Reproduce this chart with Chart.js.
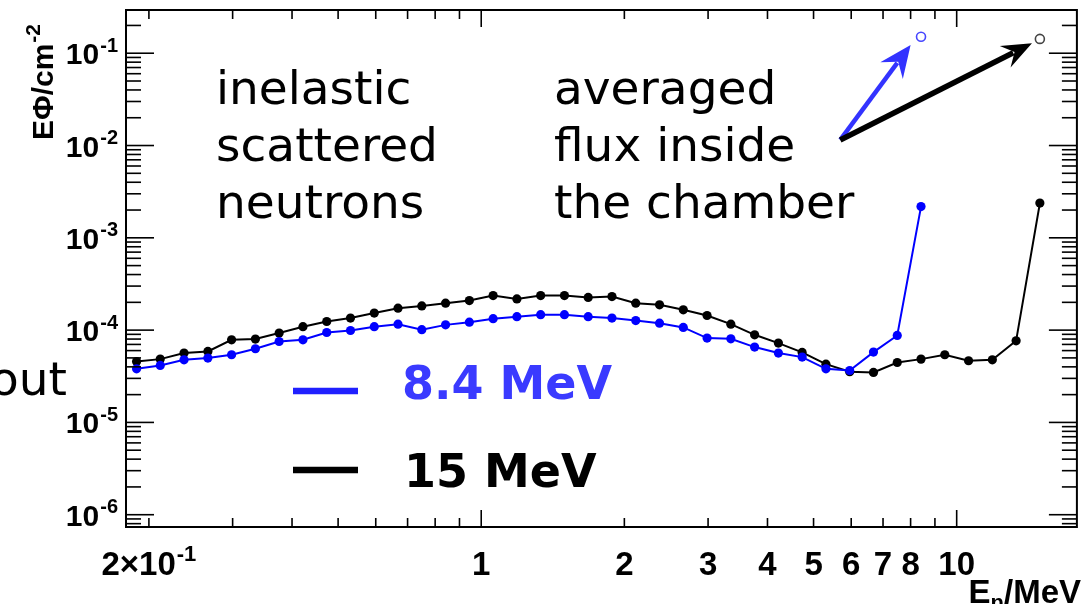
<!DOCTYPE html>
<html>
<head>
<meta charset="utf-8">
<script src="https://cdn.jsdelivr.net/npm/chart.js@4/dist/chart.umd.min.js"></script>
<style>
  html, body { margin: 0; padding: 0; background: #fff; }
  #wrap { position: relative; width: 1083px; height: 604px; overflow: hidden; }
</style>
</head>
<body>
<div id="wrap"><canvas id="fluxChart" width="1083" height="604"></canvas></div>
<script>
// neutron energy bins, MeV (20 bins per decade)
const energies = [
  0.1884, 0.2113, 0.2371, 0.2661, 0.2985, 0.3350, 0.3758, 0.4217, 0.4732, 0.5309,
  0.5957, 0.6683, 0.7499, 0.8414, 0.9441, 1.0593, 1.1885, 1.3335, 1.4962, 1.6788,
  1.8836, 2.1135, 2.3714, 2.6607, 2.9854, 3.3497, 3.7584, 4.2170, 4.7315, 5.3088,
  5.9566, 6.6834, 7.4989, 8.4140, 9.4406, 10.593, 11.885, 13.335, 14.962
];

// E*Phi per cm^2, 8.4 MeV beam
const flux84 = [
  3.81e-5, 4.14e-5, 4.77e-5, 4.98e-5, 5.41e-5, 6.28e-5, 7.53e-5, 7.85e-5, 9.42e-5, 9.90e-5,
  1.09e-4, 1.16e-4, 1.01e-4, 1.14e-4, 1.22e-4, 1.33e-4, 1.40e-4, 1.47e-4, 1.47e-4, 1.40e-4,
  1.35e-4, 1.27e-4, 1.19e-4, 1.07e-4, 8.20e-5, 8.05e-5, 6.55e-5, 5.64e-5, 5.10e-5, 3.81e-5,
  3.65e-5, 5.78e-5, 8.75e-5, 2.18e-3
];

// E*Phi per cm^2, 15 MeV beam
const flux15 = [
  4.57e-5, 4.85e-5, 5.64e-5, 5.87e-5, 7.85e-5, 8.00e-5, 9.29e-5, 1.09e-4, 1.24e-4, 1.35e-4,
  1.53e-4, 1.73e-4, 1.83e-4, 1.96e-4, 2.09e-4, 2.37e-4, 2.18e-4, 2.37e-4, 2.37e-4, 2.26e-4,
  2.31e-4, 1.96e-4, 1.88e-4, 1.66e-4, 1.44e-4, 1.16e-4, 8.90e-5, 7.23e-5, 5.73e-5, 4.28e-5,
  3.54e-5, 3.48e-5, 4.46e-5, 4.85e-5, 5.41e-5, 4.66e-5, 4.77e-5, 7.66e-5, 2.38e-3
];

// averaged flux inside the chamber (open circles)
const avgEnergy = [8.414, 14.962];
const avgFlux = [0.151, 0.143];

// arrows, in data units: common start, then the two tips
const arrowStart = { x: 5.69, y: 0.0115 };
const arrowTips = [{ x: 8.0, y: 0.123 }, { x: 14.4, y: 0.128 }];

// tick labels ('^' starts a superscript)
const yTickValues = [1e-6, 1e-5, 1e-4, 1e-3, 1e-2, 1e-1];
const yTickLabels = ['10^-6', '10^-5', '10^-4', '10^-3', '10^-2', '10^-1'];
const xTickValues = [0.2, 1, 2, 3, 4, 5, 6, 7, 8, 10];
const xTickLabels = ['2\u00d710^-1', '1', '2', '3', '4', '5', '6', '7', '8', '10'];

const BLUE = '#0000ff';
const pts = (xs, ys) => ys.map((v, i) => ({ x: xs[i], y: v }));
const ROOTFONT = '"Liberation Sans", Arial, sans-serif';

function richText(ctx, str, x, y, size, align) {
  const [base, sup] = str.split('^');
  ctx.font = 'bold ' + size + 'px ' + ROOTFONT;
  const wb = ctx.measureText(base).width;
  const supSize = Math.round(size * 0.68);
  let ws = 0;
  if (sup) {
    ctx.font = 'bold ' + supSize + 'px ' + ROOTFONT;
    ws = ctx.measureText(sup).width + 1;
  }
  const total = wb + ws;
  let sx = x;
  if (align === 'center') sx = x - total / 2;
  if (align === 'right') sx = x - total;
  ctx.textAlign = 'left';
  ctx.font = 'bold ' + size + 'px ' + ROOTFONT;
  ctx.fillText(base, sx, y);
  if (sup) {
    ctx.font = 'bold ' + supSize + 'px ' + ROOTFONT;
    ctx.fillText(sup, sx + wb + 1, y - size * 0.42);
  }
}

function arrow(ctx, x0, y0, x1, y1, w, headLen, headHalf, color) {
  const ang = Math.atan2(y1 - y0, x1 - x0);
  const c = Math.cos(ang), s = Math.sin(ang);
  ctx.save();
  ctx.strokeStyle = color;
  ctx.fillStyle = color;
  ctx.lineWidth = w;
  ctx.beginPath();
  ctx.moveTo(x0, y0);
  ctx.lineTo(x1 - c * headLen * 0.7, y1 - s * headLen * 0.7);
  ctx.stroke();
  const bx = x1 - c * headLen, by = y1 - s * headLen;
  const nx = x1 - c * headLen * 0.65, ny = y1 - s * headLen * 0.65;
  ctx.beginPath();
  ctx.moveTo(x1, y1);
  ctx.lineTo(bx - s * headHalf, by + c * headHalf);
  ctx.lineTo(nx, ny);
  ctx.lineTo(bx + s * headHalf, by - c * headHalf);
  ctx.closePath();
  ctx.fill();
  ctx.restore();
}

const rootFrame = {
  id: 'rootFrame',
  afterDatasetsDraw(chart) {
    const { ctx, chartArea: a, scales: { x, y } } = chart;
    ctx.save();
    ctx.strokeStyle = '#000';
    ctx.lineWidth = 2;
    ctx.strokeRect(a.left, a.top, a.right - a.left, a.bottom - a.top);

    ctx.lineWidth = 1.6;
    const seg = (x0, y0, x1, y1) => { ctx.beginPath(); ctx.moveTo(x0, y0); ctx.lineTo(x1, y1); ctx.stroke(); };
    // y axis ticks, left and right, pointing inwards
    for (let d = -7; d <= 0; d++) {
      for (let m = 1; m <= 9; m++) {
        const v = m * Math.pow(10, d);
        if (v < y.min || v > y.max) continue;
        const py = y.getPixelForValue(v);
        const len = m === 1 ? 28 : 15;
        seg(a.left, py, a.left + len, py);
        seg(a.right, py, a.right - len, py);
      }
    }
    // x axis ticks, bottom and top
    for (let d = -1; d <= 1; d++) {
      for (let m = 1; m <= 9; m++) {
        const v = m * Math.pow(10, d);
        if (v < x.min || v > x.max) continue;
        const px = x.getPixelForValue(v);
        const len = m === 1 ? 17 : 9;
        seg(px, a.bottom, px, a.bottom - len);
        seg(px, a.top, px, a.top + len);
      }
    }

    // tick labels
    ctx.fillStyle = '#000';
    ctx.textBaseline = 'alphabetic';
    yTickValues.forEach((v, i) => {
      richText(ctx, yTickLabels[i], 118, y.getPixelForValue(v) + 11, 30, 'right');
    });
    xTickValues.forEach((v, i) => {
      richText(ctx, xTickLabels[i], x.getPixelForValue(v), 575, 33, 'center');
    });

    // axis titles
    ctx.font = 'bold 33px ' + ROOTFONT;
    ctx.textAlign = 'right';
    const wMeV = ctx.measureText('/MeV').width;
    ctx.fillText('/MeV', 1081, 603);
    ctx.font = 'bold 22px ' + ROOTFONT;
    const wn = ctx.measureText('n').width;
    ctx.fillText('n', 1081 - wMeV, 610);
    ctx.font = 'bold 33px ' + ROOTFONT;
    ctx.fillText('E', 1081 - wMeV - wn, 603);

    ctx.save();
    ctx.translate(53, 140);
    ctx.rotate(-Math.PI / 2);
    ctx.textAlign = 'left';
    ctx.font = 'bold 30px ' + ROOTFONT;
    ctx.fillText('E\u03a6/cm', 0, 0);
    const wt = ctx.measureText('E\u03a6/cm').width;
    ctx.font = 'bold 21px ' + ROOTFONT;
    ctx.fillText('-2', wt + 1, -13);
    ctx.restore();

    // annotation text
    ctx.fillStyle = '#000';
    ctx.textAlign = 'left';
    ctx.font = '47px "DejaVu Sans", Verdana, sans-serif';
    ['inelastic', 'scattered', 'neutrons'].forEach((t, i) => ctx.fillText(t, 216, 104 + i * 57));
    ['averaged', 'flux inside', 'the chamber'].forEach((t, i) => ctx.fillText(t, 554, 104 + i * 57));
    ctx.textAlign = 'right';
    ctx.fillText('about', 67, 395);

    // arrows
    const sx = x.getPixelForValue(arrowStart.x), sy = y.getPixelForValue(arrowStart.y);
    const t0 = arrowTips[0], t1 = arrowTips[1];
    arrow(ctx, sx, sy, x.getPixelForValue(t0.x), y.getPixelForValue(t0.y), 4.5, 32, 14, '#3333ff');
    arrow(ctx, sx, sy, x.getPixelForValue(t1.x), y.getPixelForValue(t1.y), 5.5, 30, 12, '#000');

    // legend
    ctx.lineWidth = 6.5;
    ctx.strokeStyle = '#2020ff';
    seg(293, 391, 358, 391);
    ctx.strokeStyle = '#000';
    seg(293, 470, 358, 470);
    ctx.textAlign = 'left';
    ctx.font = 'bold 46px "DejaVu Sans", Verdana, sans-serif';
    ctx.fillStyle = '#3a3aff';
    ctx.fillText(chart.data.datasets[0].label, 402, 399);
    ctx.fillStyle = '#000';
    ctx.fillText(chart.data.datasets[1].label, 404, 487);
    ctx.restore();
  }
};

new Chart(document.getElementById('fluxChart').getContext('2d'), {
  type: 'line',
  data: {
    datasets: [
      {
        label: '8.4 MeV',
        data: pts(energies, flux84),
        borderColor: BLUE,
        backgroundColor: BLUE,
        borderWidth: 2,
        pointRadius: 4.6,
        pointBorderWidth: 0,
        tension: 0
      },
      {
        label: '15 MeV',
        data: pts(energies, flux15),
        borderColor: '#000',
        backgroundColor: '#000',
        borderWidth: 2,
        pointRadius: 4.6,
        pointBorderWidth: 0,
        tension: 0
      },
      {
        label: 'averaged 8.4 MeV',
        data: [{ x: avgEnergy[0], y: avgFlux[0] }],
        showLine: false,
        borderColor: '#4646ff',
        backgroundColor: 'rgba(0,0,0,0)',
        pointRadius: 4.5,
        pointBorderWidth: 1.6
      },
      {
        label: 'averaged 15 MeV',
        data: [{ x: avgEnergy[1], y: avgFlux[1] }],
        showLine: false,
        borderColor: '#444',
        backgroundColor: 'rgba(0,0,0,0)',
        pointRadius: 4.5,
        pointBorderWidth: 1.6
      }
    ]
  },
  options: {
    responsive: false,
    animation: false,
    devicePixelRatio: 1,
    layout: { padding: { left: 126, top: 10, right: 3, bottom: 77 } },
    plugins: {
      legend: { display: false },
      tooltip: { enabled: false }
    },
    scales: {
      x: { type: 'logarithmic', min: 0.179, max: 17.9, display: false },
      y: { type: 'logarithmic', min: 7.36e-7, max: 0.294, display: false }
    }
  },
  plugins: [rootFrame]
});
</script>
</body>
</html>
